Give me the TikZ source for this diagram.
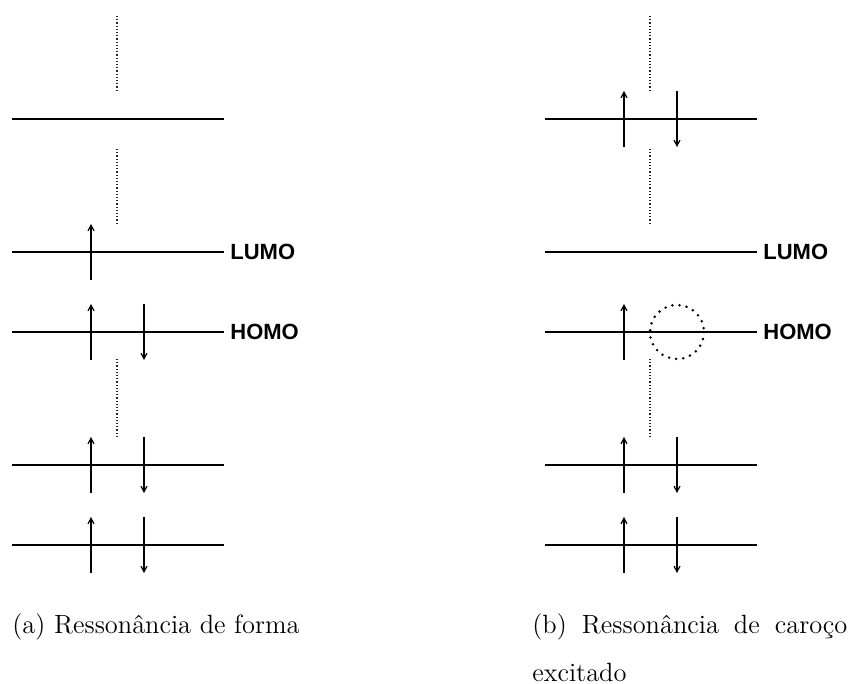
\documentclass[tikz,border=0pt]{standalone}
\usepackage{fontspec}
\setmainfont{Latin Modern Roman}
\newfontfamily\orbfont{Liberation Sans}
\usetikzlibrary{arrows.meta}

\begin{document}
\begin{tikzpicture}[x=0.5pt,y=-0.5pt]
    \tikzset{
      orbital/.style={line width=1pt},
      spin/.style={line width=0.6pt,-{Straight Barb[length=2.8pt,width=3pt]}},
      gap/.style={line width=0.6pt,densely dotted,black!85},
      hole/.style={line width=1.4pt,dash pattern=on 0pt off 3.6pt,line cap=round},
      orblabel/.style={anchor=west,inner sep=3pt,font=\orbfont\bfseries\fontsize{11}{13}\selectfont},
      caption/.style={inner sep=0pt,font=\fontsize{13.2}{24}\selectfont},
    }
    \useasboundingbox (0,0) rectangle (857,684);
    % (a) shape resonance
    \foreach \y in {119,252,332,465,545}
      \draw[orbital] (12,\y) -- (224,\y);
    \foreach \y in {252,332,465,545}
      \draw[spin] (91,\y+28) -- (91,\y-28);
    \foreach \y in {332,465,545}
      \draw[spin] (144,\y-28) -- (144,\y+28);
    \foreach \a/\b in {16/92,149/225,359/438}
      \draw[gap] (117,\a) -- (117,\b);
    \node[orblabel] (lumoa) at (224,252) {LUMO};
    \node[orblabel] (homoa) at (224,332) {HOMO};
    %
    % (b) core-excited resonance
    \begin{scope}[shift={(533,0)}]
      \foreach \y in {119,252,332,465,545}
        \draw[orbital] (12,\y) -- (224,\y);
      \foreach \y in {119,332,465,545}
        \draw[spin] (91,\y+28) -- (91,\y-28);
      \foreach \y in {119,465,545}
        \draw[spin] (144,\y-28) -- (144,\y+28);
      \foreach \a/\b in {16/92,149/225,359/438}
        \draw[gap] (117,\a) -- (117,\b);
      \draw[hole] (144,332) circle[radius=27];
      \node[orblabel] (lumob) at (224,252) {LUMO};
      \node[orblabel] (homob) at (224,332) {HOMO};
    \end{scope}
    %
    \node[caption,anchor=base west] (capa) at (12,633) {(a) Ressonância de forma};
    \node[caption,anchor=north west,text width=157.5pt,align=justify] (capb) at (532,613)
      {(b) Ressonância de caroço \mbox{excitado}};
\end{tikzpicture}
\end{document}
